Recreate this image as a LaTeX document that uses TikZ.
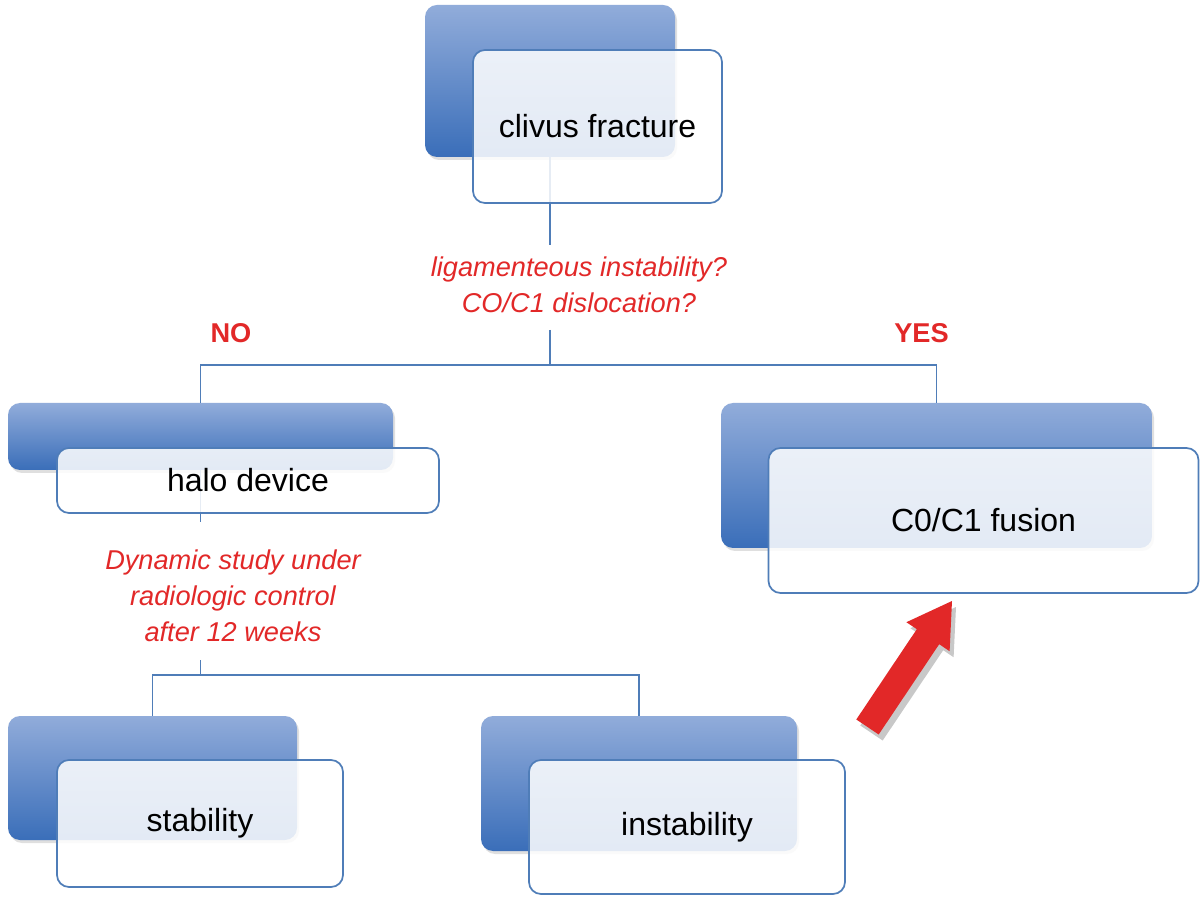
\documentclass[tikz,border=0pt]{standalone}
\usepackage{fontspec}
\setmainfont{Liberation Sans}
\usetikzlibrary{shadows}
\definecolor{lineblue}{RGB}{79,125,184}
\definecolor{topblue}{RGB}{145,172,218}
\definecolor{botblue}{RGB}{58,110,185}
\definecolor{labred}{RGB}{226,40,40}
\definecolor{shgrey}{RGB}{200,200,200}
\begin{document}
\begin{tikzpicture}[x=0.5pt,y=-0.5pt,
  sz/.style 2 args={minimum width=#1*0.5pt, minimum height=#2*0.5pt},
  backbox/.style={rectangle, rounded corners=6pt, inner sep=0pt,
    top color=topblue, bottom color=botblue, draw=none,
    drop shadow={shadow xshift=1pt, shadow yshift=-1.5pt, opacity=0.25}},
  frontbox/.style={rectangle, rounded corners=6pt, inner sep=0pt,
    draw=lineblue, line width=0.85pt, fill=white, fill opacity=0.86, text opacity=1,
    font=\fontsize{16}{19}\selectfont, text=black},
  conn/.style={draw=lineblue, line width=0.9pt},
  question/.style={text=labred, font=\fontsize{13.6}{18}\selectfont\itshape, align=center, inner sep=0pt},
  answer/.style={text=labred, font=\fontsize{13.6}{16}\selectfont\bfseries, inner sep=0pt},
  bigarrow/.style={fill=labred, draw=none},
  arrowshadow/.style={fill=shgrey, draw=none}
]
\useasboundingbox (0,0) rectangle (1200,898);
\fill[white] (0,0) rectangle (1200,898);

% back boxes
\node[backbox, sz={250}{152}] (b1) at (550,81) {};
\node[backbox, sz={385}{67}] (b2) at (200.5,436.5) {};
\node[backbox, sz={431}{145}] (b3) at (936.5,475.5) {};
\node[backbox, sz={289}{124}] (b4) at (152.5,778) {};
\node[backbox, sz={316}{135}] (b5) at (639,783.5) {};

% coordinates for connectors
\coordinate (q1top) at (550,245);
\coordinate (q1bot) at (550,330);
\coordinate (j1) at (550,365);
\coordinate (q2top) at (200.5,522);
\coordinate (q2bot) at (200.5,660);
\coordinate (j2) at (200.5,675);

% connectors
\draw[conn] (b1.south) -- (q1top);
\draw[conn] (q1bot) -- (j1);
\draw[conn] (b2.north) |- (j1) -| (b3.north);
\draw[conn] (b2.south) -- (q2top);
\draw[conn] (q2bot) -- (j2);
\draw[conn] (b4.north) |- (j2) -| (b5.north);

% front boxes
\node[frontbox, sz={249}{153}] (f1) at (597.5,126.5) {clivus fracture};
\node[frontbox, sz={382}{65}] (f2) at (248,480.5) {halo device};
\node[frontbox, sz={430}{145}] (f3) at (983.5,520.5) {C0/C1 fusion};
\node[frontbox, sz={286}{127}] (f4) at (200,823.5) {stability};
\node[frontbox, sz={316}{134}] (f5) at (687,827) {instability};

% labels
\node[question] (q1) at (579,285) {ligamenteous instability?\\CO/C1 dislocation?};
\node[question] (q2) at (233,596) {Dynamic study under\\radiologic control\\after 12 weeks};
\node[answer] (no) at (231,333) {NO};
\node[answer] (yes) at (921.5,333) {YES};

% big red arrow
\begin{scope}[shift={(4,6)}]
\fill[arrowshadow] (856.3,719.5) -- (916.8,629.2) -- (906.4,622.2) -- (952,601)
  -- (949.6,651.2) -- (939.2,644.2) -- (878.7,734.5) -- cycle;
\end{scope}
\fill[bigarrow] (856.3,719.5) -- (916.8,629.2) -- (906.4,622.2) -- (952,601)
  -- (949.6,651.2) -- (939.2,644.2) -- (878.7,734.5) -- cycle;
\end{tikzpicture}
\end{document}
